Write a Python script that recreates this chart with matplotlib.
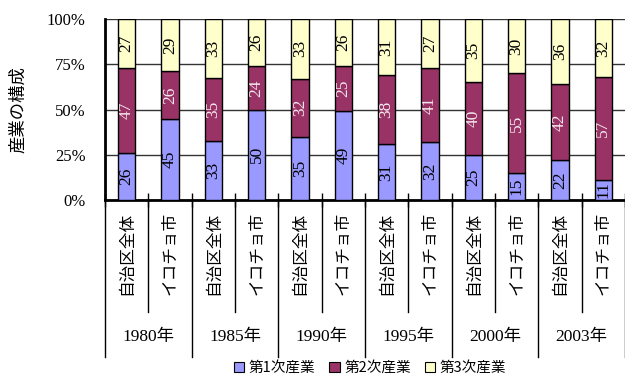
import matplotlib
matplotlib.use("Agg")
import matplotlib.pyplot as plt
import matplotlib.transforms as mtransforms
from matplotlib.patches import Patch
import numpy as np

years = ["1980年", "1985年", "1990年", "1995年", "2000年", "2003年"]
regions = ["自治区全体", "イコチョ市"]
series_names = ["第1次産業", "第2次産業", "第3次産業"]

# values per bar: (1980 自治区全体, 1980 イコチョ市, 1985 ..., ...)
primary = [26, 45, 33, 50, 35, 49, 31, 32, 25, 15, 22, 11]
secondary = [47, 26, 35, 24, 32, 25, 38, 41, 40, 55, 42, 57]
tertiary = [27, 29, 33, 26, 33, 26, 31, 27, 35, 30, 36, 32]

colors = ["#9999FF", "#993366", "#FFFFCC"]
text_colors = ["black", "#F4E8EE", "black"]

SERIF = ["Liberation Serif", "Noto Sans CJK JP"]
CJK = ["Noto Sans CJK JP", "DejaVu Sans"]

fig = plt.figure(figsize=(6.25, 3.76), dpi=100)
ax = fig.add_axes([105 / 625, 1 - 200 / 376, 520 / 625, 181 / 376])

data = np.array([primary, secondary, tertiary], dtype=float)
shares = data / data.sum(axis=0) * 100
x = np.arange(len(primary))

bottom = np.zeros(len(x))
for i, (vals, raw) in enumerate(zip(shares, data)):
    ax.bar(x, vals, bottom=bottom, width=0.4, color=colors[i],
           edgecolor="black", linewidth=1.0, zorder=3)
    for xi, b, v, r in zip(x, bottom, vals, raw):
        ax.text(xi, b + v / 2, f"{int(r)}", rotation=90, ha="center",
                va="center", fontsize=12.5, family=SERIF,
                color=text_colors[i], zorder=4)
    bottom += vals

ax.set_xlim(-0.5, len(x) - 0.5)
ax.set_ylim(0, 100)
ax.set_yticks([0, 25, 50, 75, 100])
ax.set_yticklabels(["0%", "25%", "50%", "75%", "100%"], family=SERIF,
                   fontsize=12)
ax.yaxis.grid(True, color="#333333", linewidth=1.0, zorder=0)
ax.tick_params(axis="y", length=0, pad=14)

bounds = np.arange(-0.5, len(x) + 0.5, 1.0)
ax.set_xticks(bounds)
ax.set_xticklabels([])
ax.tick_params(axis="x", direction="inout", length=10, width=1.0)

for s in ["top", "right"]:
    ax.spines[s].set_visible(False)
ax.spines["left"].set_linewidth(2.0)
ax.spines["bottom"].set_linewidth(2.0)

ax.set_ylabel("産業の構成", family=CJK, fontsize=12.5, labelpad=14)

trans = mtransforms.blended_transform_factory(ax.transData, ax.transAxes)

# category labels under each bar
for xi in x:
    ax.text(xi, -0.065, regions[xi % 2], rotation=90, ha="center", va="top",
            family=CJK, fontsize=12, transform=trans)

# separators: short within a year, long between years
for b in bounds:
    idx = int(round(b + 0.5))
    low = -0.867 if idx % 2 == 0 else -0.619
    ax.plot([b, b], [0, low], color="black", linewidth=1.0,
            transform=trans, clip_on=False)

for k, yr in enumerate(years):
    ax.text(2 * k + 0.5, -0.757, yr, ha="center", va="center",
            family=SERIF, fontsize=12.5, transform=trans)

handles = [Patch(facecolor=c, edgecolor="black", linewidth=0.8) for c in colors]
fig.legend(handles, series_names, loc="center", bbox_to_anchor=(0.592, 1 - 368 / 376),
           ncol=3, frameon=False, prop={"family": CJK, "size": 10.5},
           handlelength=0.7, handleheight=0.7, handletextpad=0.3,
           columnspacing=1.0, borderpad=0)

fig.savefig("out.png", dpi=100)
